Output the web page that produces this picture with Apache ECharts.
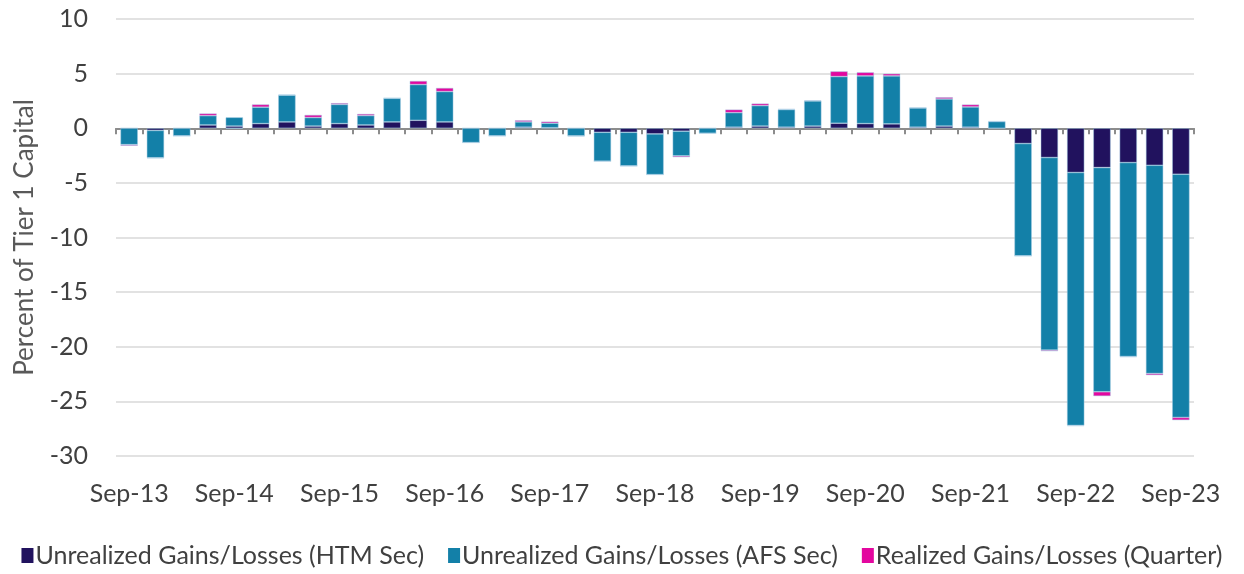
<!DOCTYPE html>
<html>
<head>
  <meta charset="UTF-8">
  <title>Gains/Losses</title>
  <script src="https://cdn.jsdelivr.net/npm/echarts@6/dist/echarts.min.js"></script>
  <style>
    html, body { margin: 0; padding: 0; background: #fff; }
  </style>
</head>
<body>
  <div id="chart" style="width:1244px; height:574px;"></div>
  <script>
    var quarters = [
      'Sep-13', 'Dec-13', 'Mar-14', 'Jun-14', 'Sep-14', 'Dec-14', 'Mar-15', 'Jun-15',
      'Sep-15', 'Dec-15', 'Mar-16', 'Jun-16', 'Sep-16', 'Dec-16', 'Mar-17', 'Jun-17',
      'Sep-17', 'Dec-17', 'Mar-18', 'Jun-18', 'Sep-18', 'Dec-18', 'Mar-19', 'Jun-19',
      'Sep-19', 'Dec-19', 'Mar-20', 'Jun-20', 'Sep-20', 'Dec-20', 'Mar-21', 'Jun-21',
      'Sep-21', 'Dec-21', 'Mar-22', 'Jun-22', 'Sep-22', 'Dec-22', 'Mar-23', 'Jun-23',
      'Sep-23'
    ];
    var htm = [
      0, -0.2, 0, 0.3, 0.2, 0.43, 0.58, 0.2, 0.43, 0.3, 0.58, 0.73, 0.58, 0, 0, 0.1,
      0.05, 0, -0.37, -0.37, -0.52, -0.27, 0, 0.1, 0.2, 0.1, 0.2, 0.46, 0.43, 0.4, 0.1,
      0.2, 0.1, 0, -1.4, -2.68, -4.05, -3.6, -3.14, -3.39, -4.21
    ];
    var afs = [
      -1.5, -2.5, -0.7, 0.85, 0.8, 1.5, 2.45, 0.78, 1.75, 0.86, 2.16, 3.27, 2.78, -1.31,
      -0.7, 0.48, 0.41, -0.7, -2.65, -3.08, -3.72, -2.26, -0.46, 1.33, 1.87, 1.61, 2.3,
      4.27, 4.36, 4.39, 1.76, 2.48, 1.85, 0.61, -10.28, -17.63, -23.15, -20.52, -17.75,
      -19.06, -22.26
    ];
    var realized = [
      -0.1, -0.05, 0, 0.2, -0.05, 0.25, 0.05, 0.24, 0.12, 0.15, 0.03, 0.33, 0.33, 0, 0,
      0.15, 0.15, -0.05, 0, 0, 0, -0.12, 0, 0.28, 0.19, 0.05, 0.06, 0.48, 0.33, 0.2,
      0.03, 0.16, 0.22, 0.03, 0, -0.1, -0.05, -0.4, -0.05, -0.15, -0.25
    ];

    var font = 'Lato, "Open Sans", sans-serif';
    var chart = echarts.init(document.getElementById('chart'), null, {renderer: 'canvas'});

    function barSeries(name, data, color) {
      return {
        name: name,
        type: 'bar',
        stack: 'total',
        data: data,
        barCategoryGap: '34%',
        itemStyle: {color: color, borderColor: 'rgba(160,200,225,0.8)', borderWidth: 0.6}
      };
    }

    chart.setOption({
      animation: false,
      textStyle: {fontFamily: font},
      grid: {left: 116, right: 50, top: 19, bottom: 118},
      legend: {
        bottom: 1,
        left: 'center',
        itemWidth: 12,
        itemHeight: 15,
        itemGap: 24,
        icon: 'rect',
        itemStyle: {borderWidth: 0},
        textStyle: {fontFamily: font, fontSize: 25, color: '#404040', padding: [0, 0, 0, -3]},
        data: [
          'Unrealized Gains/Losses (HTM Sec)',
          'Unrealized Gains/Losses (AFS Sec)',
          'Realized Gains/Losses (Quarter)'
        ]
      },
      xAxis: [
        {
          type: 'category',
          data: quarters,
          position: 'bottom',
          axisLine: {show: false, onZero: false},
          axisTick: {show: false},
          axisLabel: {interval: 3, fontSize: 25, color: '#404040', margin: 25}
        },
        {
          type: 'category',
          data: quarters,
          position: 'bottom',
          axisLine: {show: true, onZero: true, lineStyle: {color: '#8c8c8c', width: 2}},
          axisTick: {show: true, interval: 0, length: 6, lineStyle: {color: '#8c8c8c', width: 2}},
          axisLabel: {show: false}
        }
      ],
      yAxis: {
        type: 'value',
        min: -30,
        max: 10,
        interval: 5,
        name: 'Percent of Tier 1 Capital',
        nameLocation: 'middle',
        nameGap: 78,
        nameTextStyle: {fontSize: 26, color: '#595959', fontFamily: font},
        axisLine: {show: false},
        axisTick: {show: false},
        axisLabel: {fontSize: 25, color: '#404040', margin: 28},
        splitLine: {lineStyle: {color: '#d9d9d9', width: 1.5}}
      },
      series: [
        barSeries('Unrealized Gains/Losses (HTM Sec)', htm, '#21125e'),
        barSeries('Unrealized Gains/Losses (AFS Sec)', afs, '#1380a8'),
        barSeries('Realized Gains/Losses (Quarter)', realized, '#e3079f')
      ]
    });
  </script>
</body>
</html>
